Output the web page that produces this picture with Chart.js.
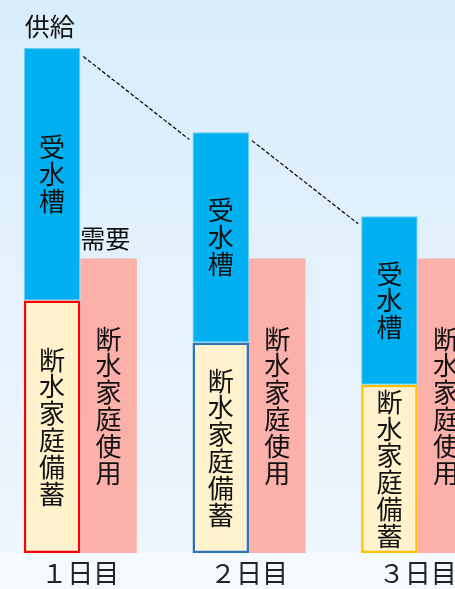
<!DOCTYPE html>
<html>
<head>
<meta charset="utf-8">
<script src="https://cdn.jsdelivr.net/npm/chart.js"></script>
<style>
  html, body { margin: 0; padding: 0; width: 455px; height: 589px; overflow: hidden; }
  body { background: linear-gradient(#d8edfb 0%, #eef6fe 93.8%, #f5faff 94%, #f5faff 100%); position: relative; }
  #wrap { position: absolute; left: -4px; top: 0; width: 506px; height: 589px; }
</style>
</head>
<body>
<div id="wrap"><canvas id="chart"></canvas></div>
<script>
// 給水の日ごとの変化（単位は目盛なし）
const days = ['１日目', '２日目', '３日目'];
const storageValues = [6, 5, 4];   // 断水家庭備蓄
const tankValues = [6, 5, 4];      // 受水槽
const demandValues = [7, 7, 7];    // 断水家庭使用
const storageLabel = '断水家庭備蓄';
const tankLabel = '受水槽';
const demandLabel = '断水家庭使用';
const groupNames = ['供給', '需要'];

const FONT = '"Noto Sans CJK JP", "Noto Sans", sans-serif';

// 棒の中に縦書きで文字を入れる + 供給/需要 + 点線
const barText = {
    id: 'barText',
    afterDatasetsDraw(chart) {
        const ctx = chart.ctx;
        ctx.save();
        ctx.fillStyle = '#111';
        ctx.font = '26px ' + FONT;
        ctx.textAlign = 'center';
        ctx.textBaseline = 'middle';
        chart.data.datasets.forEach((ds, di) => {
            const meta = chart.getDatasetMeta(di);
            meta.data.forEach(bar => {
                const chars = [...ds.inner];
                const lh = 26.8;
                const mid = (bar.y + bar.base) / 2;
                const start = mid - (chars.length - 1) * lh / 2;
                chars.forEach((c, k) => ctx.fillText(c, bar.x, start + k * lh));
            });
        });

        // 供給 / 需要
        const tank = chart.getDatasetMeta(1).data;
        const demand = chart.getDatasetMeta(2).data;
        ctx.font = '25px ' + FONT;
        ctx.textAlign = 'left';
        ctx.fillText(groupNames[0], tank[0].x - tank[0].width / 2 + 1, tank[0].y - 21);
        ctx.fillText(groupNames[1], demand[0].x - demand[0].width / 2, demand[0].y - 20);

        // 受水槽の上端をつなぐ点線
        ctx.strokeStyle = '#000';
        ctx.lineWidth = 1.2;
        ctx.setLineDash([4, 2]);
        for (let i = 0; i < tank.length - 1; i++) {
            const a = tank[i], b = tank[i + 1];
            ctx.beginPath();
            ctx.moveTo(a.x + a.width / 2 + 3, a.y + 8.5);
            ctx.lineTo(b.x - b.width / 2 - 3, b.y + 7.5);
            ctx.stroke();
        }
        ctx.restore();
    }
};

new Chart(document.getElementById('chart'), {
    type: 'bar',
    data: {
        labels: days,
        datasets: [
            {
                label: storageLabel,
                inner: storageLabel,
                data: storageValues,
                stack: 'supply',
                backgroundColor: '#fff2cc',
                borderColor: ['#ff0000', '#2e75b6', '#ffc000'],
                borderWidth: 2.5,
                borderSkipped: false
            },
            {
                label: tankLabel,
                inner: tankLabel,
                data: tankValues,
                stack: 'supply',
                backgroundColor: '#00b0f0',
                borderColor: '#6fcdf3',
                borderWidth: 1,
                borderSkipped: false
            },
            {
                label: demandLabel,
                inner: demandLabel,
                data: demandValues,
                stack: 'demand',
                backgroundColor: '#fbb0aa',
                borderWidth: 0
            }
        ]
    },
    options: {
        responsive: true,
        maintainAspectRatio: false,
        animation: false,
        layout: { padding: 0 },
        categoryPercentage: 0.67,
        barPercentage: 1,
        plugins: {
            legend: { display: false },
            tooltip: { enabled: false }
        },
        scales: {
            x: {
                stacked: true,
                grid: { display: false, drawTicks: false },
                border: { display: false },
                ticks: {
                    color: '#222',
                    padding: 5,
                    font: { size: 26, family: FONT }
                },
                afterFit(scale) { scale.height = 36; }
            },
            y: {
                stacked: true,
                display: false,
                min: 0,
                max: 13.14
            }
        }
    },
    plugins: [barText]
});
</script>
</body>
</html>
